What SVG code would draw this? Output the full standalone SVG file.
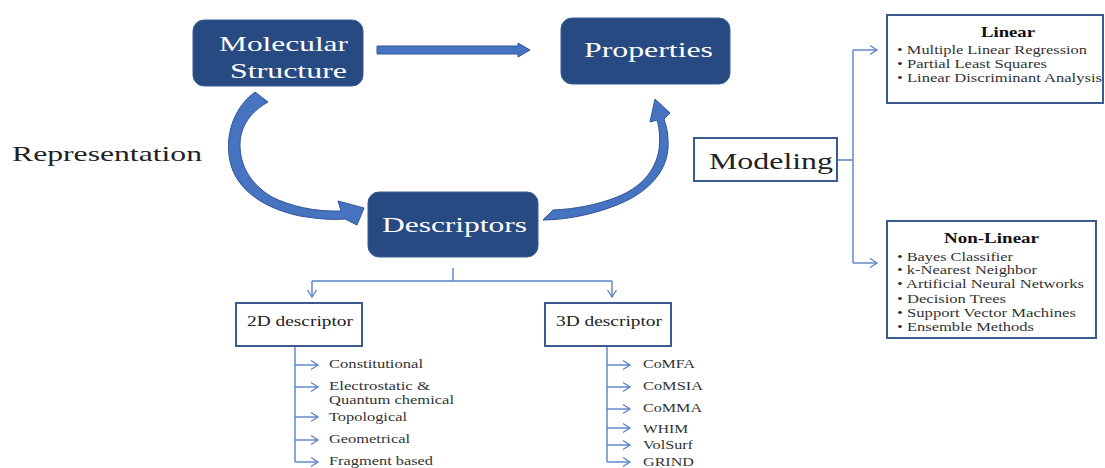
<svg xmlns="http://www.w3.org/2000/svg" width="1105" height="468" viewBox="0 0 1105 468">
<defs>
<style>
.node{fill:#284A82;stroke:#3A5C96;stroke-width:1}
.nt{font-family:"Liberation Serif","Times New Roman",serif;font-size:21px;fill:#ffffff}
.lab{font-family:"Liberation Serif","Times New Roman",serif;fill:#222222}
.box{fill:#ffffff;stroke:#3B5A8F;stroke-width:2}
.conn{fill:none;stroke:#5A82C8;stroke-width:1.4}
.big{fill:#4774C0;stroke:#30559A;stroke-width:1}
.it{font-family:"Liberation Serif","Times New Roman",serif;font-size:12px;fill:#333333}
.ttl{font-family:"Liberation Serif","Times New Roman",serif;font-size:14px;font-weight:bold;fill:#111111}
.sm{font-family:"Liberation Serif","Times New Roman",serif;font-size:12.5px;fill:#333333}
</style>
<marker id="chev" viewBox="-1 -6 11 12" refX="8" refY="0" markerWidth="11" markerHeight="12" markerUnits="userSpaceOnUse" orient="auto">
<path d="M1,-4.5 L8,0 L1,4.5" fill="none" stroke="#5A82C8" stroke-width="1.3"/>
</marker>
</defs>
<rect width="1105" height="468" fill="#ffffff"/>

<g id="connectors">
<path id="arrow-top" class="big" d="M377,46 H518 V43 L530,50 L518,57 V54 H377 Z"/>
<path id="arrow-representation" class="big" d="M255,92 C236,106 226,130 229,155 C232,185 258,207 300,216 C318,219 332,220 345,219 L357,225 L364,208 L338,201 L341,211 C315,212 290,206 272,197 C250,184 240,165 240,145 C240,125 252,111 268,102 Z"/>
<path id="arrow-modeling" class="big" d="M543,220 C565,220 600,214 628,200 C655,186 670,165 668,140 C668,132 666,125 664,119 L670,113 L655,99 L650,122 L657,120 C660,130 660,140 659,150 C655,172 640,188 617,197 C597,205 575,209 553,210 Z"/>
<path class="conn" d="M837,160 H853 M853,50 V263"/>
<path class="conn" d="M853,50 H877" marker-end="url(#chev)"/>
<path class="conn" d="M853,263 H877" marker-end="url(#chev)"/>
<path class="conn" d="M453,268 V281 M312,281 H612"/>
<path class="conn" d="M312,281 V297" marker-end="url(#chev)"/>
<path class="conn" d="M612,281 V297" marker-end="url(#chev)"/>
<path class="conn" d="M295,346 V462 M607,346 V462"/>
<path class="conn" d="M295,365 H318" marker-end="url(#chev)"/>
<path class="conn" d="M295,387 H318" marker-end="url(#chev)"/>
<path class="conn" d="M295,417 H318" marker-end="url(#chev)"/>
<path class="conn" d="M295,440 H318" marker-end="url(#chev)"/>
<path class="conn" d="M295,462 H318" marker-end="url(#chev)"/>
<path class="conn" d="M607,365 H630" marker-end="url(#chev)"/>
<path class="conn" d="M607,387 H630" marker-end="url(#chev)"/>
<path class="conn" d="M607,409 H630" marker-end="url(#chev)"/>
<path class="conn" d="M607,428 H630" marker-end="url(#chev)"/>
<path class="conn" d="M607,445 H630" marker-end="url(#chev)"/>
<path class="conn" d="M607,462 H630" marker-end="url(#chev)"/>
</g>

<g id="molecular-structure">
<rect class="node" x="193" y="20" width="170" height="66" rx="11"/>
<text class="nt" x="219" y="51" textLength="129" lengthAdjust="spacingAndGlyphs">Molecular</text>
<text class="nt" x="230" y="78" textLength="117" lengthAdjust="spacingAndGlyphs">Structure</text>
</g>

<g id="properties">
<rect class="node" x="561" y="18" width="169" height="66" rx="11"/>
<text class="nt" x="584" y="57" textLength="129" lengthAdjust="spacingAndGlyphs">Properties</text>
</g>

<g id="descriptors">
<rect class="node" x="368" y="192" width="170" height="65" rx="11"/>
<text class="nt" x="382" y="232" textLength="145" lengthAdjust="spacingAndGlyphs">Descriptors</text>
</g>

<g id="representation">
<text class="lab" x="12" y="161" font-size="22" textLength="190" lengthAdjust="spacingAndGlyphs">Representation</text>
</g>

<g id="modeling">
<rect class="box" x="694" y="138" width="143" height="43"/>
<text class="lab" x="709" y="169" font-size="23" textLength="124" lengthAdjust="spacingAndGlyphs">Modeling</text>
</g>

<g id="linear">
<rect class="box" x="887" y="15" width="216" height="88" stroke-width="2.5"/>
<text class="ttl" x="981" y="37" textLength="54" lengthAdjust="spacingAndGlyphs">Linear</text>
<text class="it" x="897" y="54" textLength="190" lengthAdjust="spacingAndGlyphs">• Multiple Linear Regression</text>
<text class="it" x="897" y="68" textLength="150" lengthAdjust="spacingAndGlyphs">• Partial Least Squares</text>
<text class="it" x="897" y="82" textLength="205" lengthAdjust="spacingAndGlyphs">• Linear Discriminant Analysis</text>
</g>

<g id="non-linear">
<rect class="box" x="887" y="221" width="209" height="117" stroke-width="2.5"/>
<text class="ttl" x="944" y="243" textLength="95" lengthAdjust="spacingAndGlyphs">Non-Linear</text>
<text class="it" x="897" y="261" textLength="116" lengthAdjust="spacingAndGlyphs">• Bayes Classifier</text>
<text class="it" x="897" y="274" textLength="140" lengthAdjust="spacingAndGlyphs">• k-Nearest Neighbor</text>
<text class="it" x="897" y="288" textLength="187" lengthAdjust="spacingAndGlyphs">• Artificial Neural Networks</text>
<text class="it" x="897" y="303" textLength="109" lengthAdjust="spacingAndGlyphs">• Decision Trees</text>
<text class="it" x="897" y="317" textLength="179" lengthAdjust="spacingAndGlyphs">• Support Vector Machines</text>
<text class="it" x="897" y="331" textLength="137" lengthAdjust="spacingAndGlyphs">• Ensemble Methods</text>
</g>

<g id="descriptor-2d">
<rect class="box" x="236" y="303" width="126" height="43"/>
<text class="lab" x="247" y="326" font-size="14.5" textLength="106" lengthAdjust="spacingAndGlyphs">2D descriptor</text>
</g>

<g id="descriptor-3d">
<rect class="box" x="545" y="303" width="126" height="43"/>
<text class="lab" x="556" y="326" font-size="14.5" textLength="106" lengthAdjust="spacingAndGlyphs">3D descriptor</text>
</g>

<g id="list-2d">
<text class="sm" x="329" y="368" textLength="94" lengthAdjust="spacingAndGlyphs">Constitutional</text>
<text class="sm" x="329" y="390" textLength="101" lengthAdjust="spacingAndGlyphs">Electrostatic &amp;</text>
<text class="sm" x="329" y="404" textLength="125" lengthAdjust="spacingAndGlyphs">Quantum chemical</text>
<text class="sm" x="329" y="421" textLength="78" lengthAdjust="spacingAndGlyphs">Topological</text>
<text class="sm" x="329" y="443" textLength="81" lengthAdjust="spacingAndGlyphs">Geometrical</text>
<text class="sm" x="329" y="465" textLength="104" lengthAdjust="spacingAndGlyphs">Fragment based</text>
</g>

<g id="list-3d">
<text class="sm" x="643" y="368" textLength="52" lengthAdjust="spacingAndGlyphs">CoMFA</text>
<text class="sm" x="643" y="390" textLength="60" lengthAdjust="spacingAndGlyphs">CoMSIA</text>
<text class="sm" x="643" y="412" textLength="59" lengthAdjust="spacingAndGlyphs">CoMMA</text>
<text class="sm" x="643" y="433" textLength="45" lengthAdjust="spacingAndGlyphs">WHIM</text>
<text class="sm" x="643" y="449" textLength="50" lengthAdjust="spacingAndGlyphs">VolSurf</text>
<text class="sm" x="643" y="466" textLength="51" lengthAdjust="spacingAndGlyphs">GRIND</text>
</g>
</svg>
